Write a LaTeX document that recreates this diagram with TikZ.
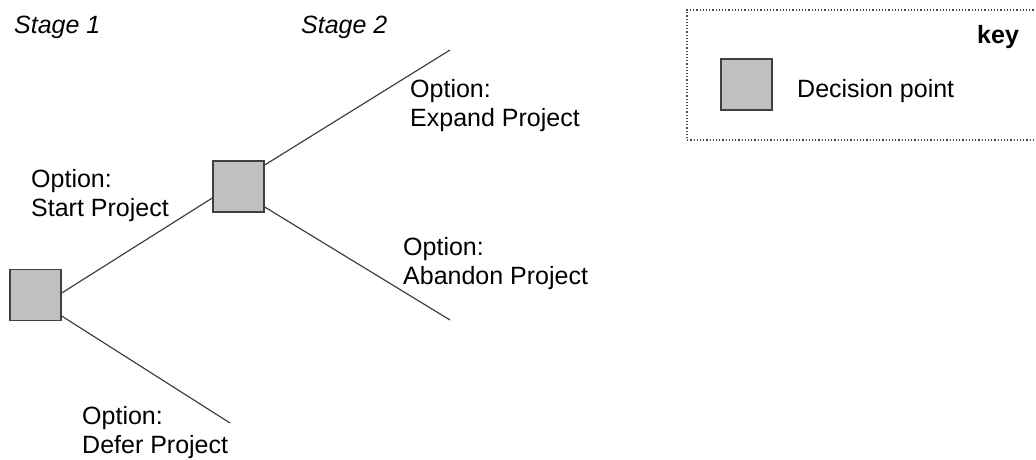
\documentclass[tikz,border=0pt]{standalone}
\usepackage{fontspec}
\setmainfont{Liberation Sans}
\definecolor{boxfill}{HTML}{C0C0C0}
\definecolor{edgecol}{HTML}{404040}
\begin{document}
\begin{tikzpicture}[x=1pt,y=-1pt,
  decision/.style={draw=edgecol, line width=1.4pt, fill=boxfill, minimum size=51pt, inner sep=0pt},
  branch/.style={draw=edgecol, line width=1.2pt},
  label/.style={font=\fontsize{25}{29}\selectfont, align=left, inner sep=0pt, anchor=north west},
  stagelabel/.style={font=\fontsize{25}{29}\selectfont\itshape, inner sep=0pt, anchor=base west},
  keybox/.style={draw=black!70, line width=1.2pt, dotted}]
\useasboundingbox (0,0) rectangle (1036,459);
% decision nodes
\node[decision] (b1) at (35.5,295) {};
\node[decision] (b2) at (238.5,186.5) {};
% free ends
\coordinate (eExpand) at (450,50);
\coordinate (eAbandon) at (450,320);
\coordinate (eDefer) at (230,423);
% branches
\draw[branch] ([yshift=2pt]b1.east) -- ([yshift=-11.5pt]b2.west);
\draw[branch] ([yshift=-21pt]b1.east) -- (eDefer);
\draw[branch] ([yshift=21.5pt]b2.east) -- (eExpand);
\draw[branch] ([yshift=-20.5pt]b2.east) -- (eAbandon);
% labels
\node[stagelabel] (s1) at (14,33) {Stage 1};
\node[stagelabel] (s2) at (301,33) {Stage 2};
\node[label] (lStart) at (31,168.8) {Option:\\Start Project};
\node[label] (lExpand) at (410,78.8) {Option:\\Expand Project};
\node[label] (lAbandon) at (403,236.8) {Option:\\Abandon Project};
\node[label] (lDefer) at (82,405.8) {Option:\\Defer Project};
% key
\draw[keybox] (1040,10) -- (687,10) -- (687,140) -- (1040,140);
\node[font=\fontsize{25}{29}\selectfont\bfseries, inner sep=0pt, anchor=base west] (keyt) at (977,43) {key};
\node[decision] (kbox) at (746.5,84.5) {};
\node[font=\fontsize{25}{29}\selectfont, inner sep=0pt, anchor=base west] (kdesc) at (797,97) {Decision point};
\end{tikzpicture}
\end{document}
